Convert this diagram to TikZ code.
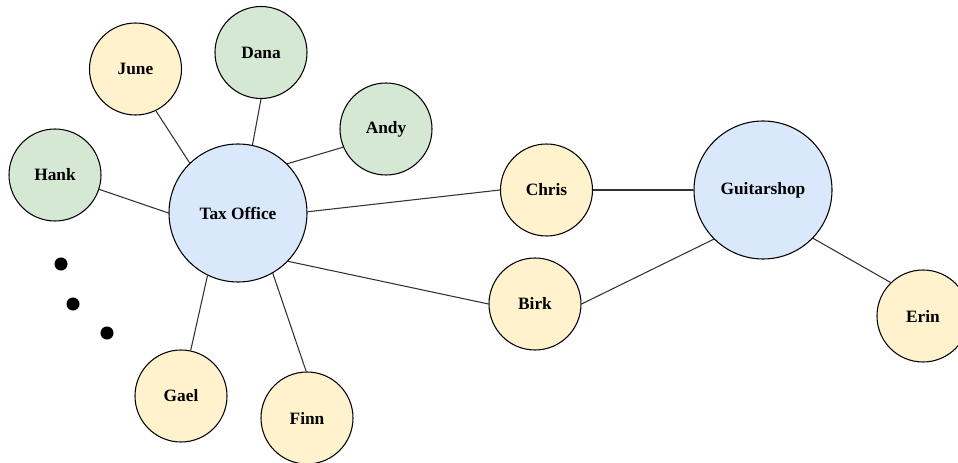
\documentclass[tikz,border=0pt]{standalone}
\usepackage{fontspec}
\setmainfont{Liberation Serif}
\definecolor{hubBlue}{HTML}{DAE8FC}
\definecolor{friendGreen}{HTML}{D5E8D4}
\definecolor{clientYellow}{HTML}{FFF2CC}
\definecolor{edgeGray}{HTML}{333333}

\begin{document}
\begin{tikzpicture}[
    x=0.75pt, y=-0.75pt,
    font=\fontsize{13}{15}\selectfont\bfseries,
    person/.style={circle, draw=black, line width=0.8pt, minimum size=69pt, inner sep=0pt},
    hub/.style={circle, draw=black, line width=0.8pt, fill=hubBlue, minimum size=103.5pt, inner sep=0pt},
    link/.style={line width=0.8pt, edgeGray}
]
\useasboundingbox (0,0) rectangle (958,463);

% Hubs.
\node[hub] (tax) at (238,213) {Tax Office};
\node[hub] (guitar) at (763,190) {Guitarshop};

% People around the tax office.
\node[person, fill=clientYellow] (june) at (135.5,69) {June};
\node[person, fill=friendGreen] (dana) at (261,52.5) {Dana};
\node[person, fill=friendGreen] (andy) at (386,129) {Andy};
\node[person, fill=friendGreen] (hank) at (55,175) {Hank};
\node[person, fill=clientYellow] (gael) at (181,396) {Gael};
\node[person, fill=clientYellow] (finn) at (307,418) {Finn};

% Shared customers and the shop.
\node[person, fill=clientYellow] (chris) at (546.5,190) {Chris};
\node[person, fill=clientYellow] (birk) at (535,304) {Birk};
\node[person, fill=clientYellow] (erin) at (923,316) {Erin};

% More people, left out.
\fill (61,264) circle (4.9pt);
\fill (73,304) circle (4.9pt);
\fill (107,333) circle (4.9pt);

% Links.
\draw[link] (hank.-18) -- (tax.180);
\draw[link] (june.-64) -- (tax.134);
\draw[link] (dana.-90) -- (tax.78);
\draw[link] (andy.-157) -- (tax.45);
\draw[link] (tax.1) -- (chris.180);
\draw[link] (tax.-44) -- (birk.180);
\draw[link] (tax.-116) -- (gael.78);
\draw[link] (tax.-60) -- (finn.91);
\draw[link] (chris.0) -- (guitar.180);
\draw[link] (birk.0) -- (guitar.-135);
\draw[link] (guitar.-44) -- (erin.134);
\end{tikzpicture}
\end{document}
